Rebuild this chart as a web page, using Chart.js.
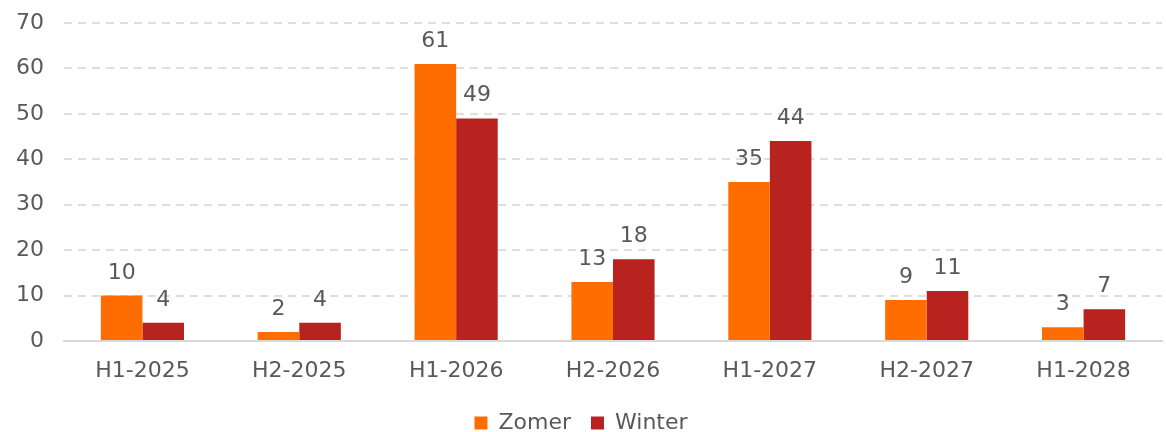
<!DOCTYPE html>
<html>
<head>
<meta charset="utf-8">
<script src="https://cdn.jsdelivr.net/npm/chart.js@4"></script>
<style>
  html, body { margin: 0; padding: 0; background: #fff; }
  #wrap { width: 1166px; height: 432px; }
</style>
</head>
<body>
<div id="wrap"><canvas id="grafica"></canvas></div>
<script>
const periodes = ['H1-2025', 'H2-2025', 'H1-2026', 'H2-2026', 'H1-2027', 'H2-2027', 'H1-2028']
const zomer = [10, 2, 61, 13, 35, 9, 3]
const winter = [4, 4, 49, 18, 44, 11, 7]
const yTicks = [0, 10, 20, 30, 40, 50, 60, 70]

const FONT = 'DejaVu Sans'
const TEXT = '#595959'

// ─── waarden boven de staven ──────────────────────────────
const labelsPlugin = {
    id: 'waardeLabels',
    afterDatasetsDraw(chart) {
        const ctx = chart.ctx
        ctx.save()
        ctx.font = `22px "${FONT}"`
        ctx.fillStyle = TEXT
        ctx.textAlign = 'center'
        ctx.textBaseline = 'alphabetic'
        chart.data.datasets.forEach((ds, i) => {
            chart.getDatasetMeta(i).data.forEach((bar, j) => {
                ctx.fillText(ds.data[j], bar.x, bar.y - 17)
            })
        })
        ctx.restore()
    }
}

new Chart(document.getElementById('grafica'), {
    type: 'bar',
    data: {
        labels: periodes,
        datasets: [
            { label: 'Zomer', data: zomer, backgroundColor: '#ff6d00' },
            { label: 'Winter', data: winter, backgroundColor: '#b8231f' }
        ]
    },
    options: {
        responsive: true,
        maintainAspectRatio: false,
        animation: false,
        layout: { padding: { left: 0, right: 4, top: 23, bottom: -12 } },
        datasets: { bar: { categoryPercentage: 0.53, barPercentage: 1.0 } },
        plugins: {
            tooltip: { enabled: false },
            legend: {
                position: 'bottom',
                labels: {
                    boxWidth: 13, boxHeight: 13, padding: 20,
                    color: TEXT,
                    font: { family: FONT, size: 22 }
                }
            }
        },
        scales: {
            y: {
                min: 0, max: 70,
                afterBuildTicks: s => { s.ticks = yTicks.map(v => ({ value: v })) },
                afterFit: s => { s.width = 64; s.paddingTop = 0; s.paddingBottom = 0 },
                ticks: { color: TEXT, font: { family: FONT, size: 22 }, padding: 20 },
                grid: {
                    color: c => c.tick.value === 0 ? 'rgba(0,0,0,0)' : '#dedede',
                    lineWidth: 2,
                    drawTicks: false
                },
                border: { display: false, dash: [8, 6] }
            },
            x: {
                afterFit: s => { s.height = 51 },
                ticks: { color: TEXT, font: { family: FONT, size: 22 }, padding: 9 },
                grid: { display: false },
                border: { color: '#d9d9d9', width: 2 }
            }
        }
    },
    plugins: [labelsPlugin]
})
</script>
</body>
</html>
